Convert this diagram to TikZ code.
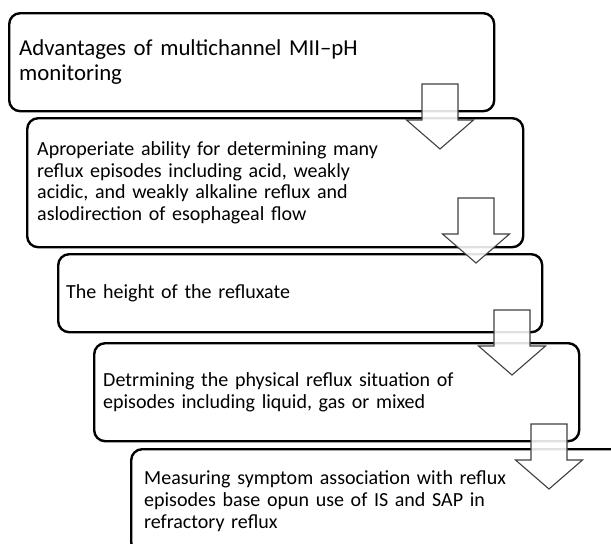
\documentclass[tikz,border=0pt]{standalone}
\usepackage{fontspec}
\setmainfont{Carlito}
\usetikzlibrary{positioning}
\tikzset{
  stepbox/.style={draw=black, line width=2.4pt, rounded corners=11pt, anchor=north west,
    align=left, inner xsep=10pt, inner ysep=0pt, font=\fontsize{20}{21.8}\selectfont},
  bigtext/.style={font=\fontsize{22.8}{25}\selectfont},
  blockarrow/.pic={
    \path[draw=black!75, line width=1.1pt, fill=white, fill opacity=0.88, line join=miter]
      (-18,0) -- (18,0) -- (18,36) -- (33.5,36) -- (0,65) -- (-33.5,36) -- (-18,36) -- cycle;
  }
}
\begin{document}
\begin{tikzpicture}[x=1pt, y=-1pt]
\useasboundingbox (0,0) rectangle (611,544);
\clip (0,0) rectangle (611,544);
\node[stepbox, bigtext, minimum width=485pt, minimum height=98pt, text width=465pt] (b1) at (8,12)
  {Advantages of multichannel MII--pH\\monitoring};
\node[stepbox, minimum width=496pt, minimum height=129pt, text width=476pt] (b2) at (26,117)
  {Aproperiate ability for determining many\\reflux episodes including acid, weakly\\acidic, and weakly alkaline reflux and\\aslodirection of esophageal flow};
\node[stepbox, inner xsep=8pt, minimum width=484pt, minimum height=78pt, text width=468pt] (b3) at (57,253)
  {The height of the refluxate};
\node[stepbox, inner xsep=9pt, minimum width=485pt, minimum height=98pt, text width=467pt] (b4) at (93,342)
  {Detrmining the physical reflux situation of\\episodes including liquid, gas or mixed};
\node[stepbox, inner xsep=13pt, minimum width=520pt, minimum height=104pt, text width=494pt] (b5) at (130,448)
  {Measuring symptom association with reflux\\episodes base opun use of IS and SAP in\\refractory reflux};
\pic at (440,84) {blockarrow};
\pic at (476,198) {blockarrow};
\pic at (512,310) {blockarrow};
\pic at (549,424) {blockarrow};
\end{tikzpicture}
\end{document}
